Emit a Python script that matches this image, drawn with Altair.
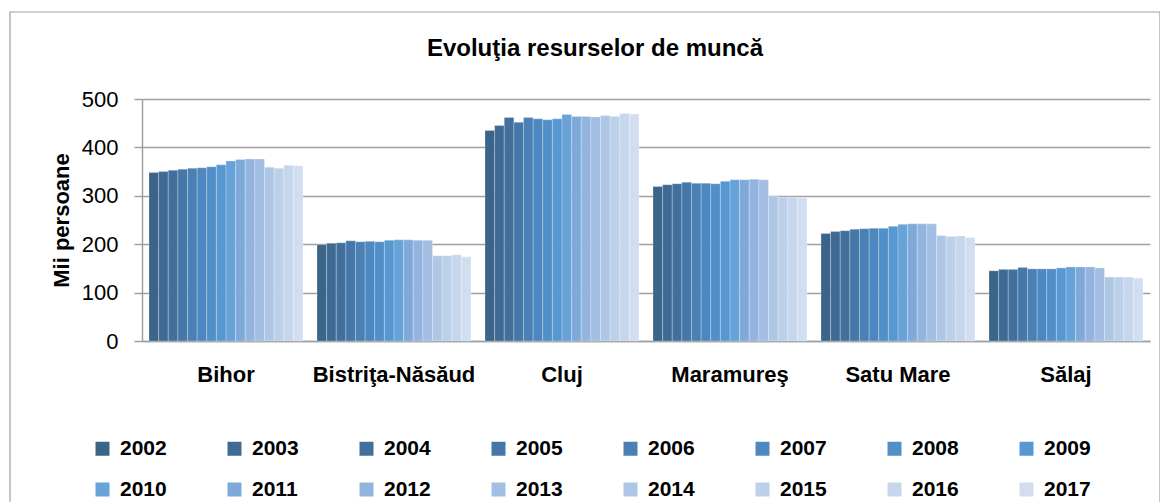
import altair as alt
import pandas as pd

regions = ["Bihor", "Bistriţa-Năsăud", "Cluj", "Maramureş", "Satu Mare", "Sălaj"]
years = ["2002", "2003", "2004", "2005", "2006", "2007", "2008", "2009",
         "2010", "2011", "2012", "2013", "2014", "2015", "2016", "2017"]

bihor = [348, 350, 353, 355, 357, 358, 360, 364, 372, 375, 376, 376, 359, 357, 363, 362]
bistrita = [199, 202, 203, 207, 205, 206, 205, 208, 209, 209, 208, 208, 176, 176, 178, 174]
cluj = [435, 445, 462, 452, 462, 459, 457, 459, 468, 464, 464, 463, 466, 464, 470, 469]
maramures = [319, 323, 325, 328, 326, 326, 325, 330, 333, 333, 334, 333, 300, 297, 297, 296]
satu_mare = [222, 226, 228, 231, 232, 233, 233, 237, 241, 242, 242, 242, 218, 216, 217, 214]
salaj = [145, 148, 148, 152, 149, 149, 149, 151, 153, 153, 153, 151, 132, 132, 132, 130]

colors = ["#3B6489", "#3E6A93", "#41709D", "#4577A8", "#4A80B3", "#4E88C0",
          "#528EC8", "#5898D2", "#67A2D8", "#7DAADA", "#92B4DD", "#A2BEE2",
          "#AFC7E6", "#BCD0EA", "#C6D6ED", "#D2DEF0"]

series = [bihor, bistrita, cluj, maramures, satu_mare, salaj]
rows = []
for reg, vals in zip(regions, series):
    for yr, v in zip(years, vals):
        rows.append({"Regiune": reg, "An": yr, "Valoare": v})
df = pd.DataFrame(rows)

FONT = "Liberation Sans, Arial, sans-serif"
GRAY = "#A0A0A0"

frame = alt.Chart(pd.DataFrame({"k": [0]})).mark_rect(
    fillOpacity=0, stroke=GRAY, strokeWidth=1.2
).encode(
    x=alt.value(-132), x2=alt.value(1018), y=alt.value(-87), y2=alt.value(430)
)

bars = alt.Chart(df).mark_bar(stroke="white", strokeWidth=0.5, strokeOpacity=0.5).encode(
    x=alt.X("Regiune:N", sort=regions,
            scale=alt.Scale(paddingInner=0.0833, paddingOuter=0.0417),
            axis=alt.Axis(title=None, labelAngle=0, ticks=False, domainColor=GRAY,
                          domainWidth=1.5, labelFont=FONT, labelFontWeight="bold",
                          labelFontSize=22, labelColor="black", labelPadding=23)),
    xOffset=alt.XOffset("An:N", sort=years, scale=alt.Scale(paddingInner=0, paddingOuter=0)),
    y=alt.Y("Valoare:Q", scale=alt.Scale(domain=[0, 500], nice=False),
            axis=alt.Axis(title="Mii persoane", values=[0, 100, 200, 300, 400, 500],
                          grid=True, gridColor=GRAY, gridWidth=1.5,
                          domainColor=GRAY, domainWidth=1.5,
                          tickColor=GRAY, tickSize=8, tickWidth=1.5,
                          labelFont=FONT, labelFontSize=22, labelColor="black",
                          labelPadding=16,
                          titleFont=FONT, titleFontSize=22, titleFontWeight="bold",
                          titleColor="black", titlePadding=8)),
    color=alt.Color("An:N", sort=years,
                    scale=alt.Scale(domain=years, range=colors),
                    legend=alt.Legend(title=None, orient="none", legendX=-50, legendY=339,
                                      direction="horizontal", columns=8, gridAlign="all",
                                      symbolType="square", symbolSize=196,
                                      symbolStrokeWidth=0, labelOffset=7,
                                      labelFont=FONT, labelFontWeight="bold",
                                      labelFontSize=21, labelColor="black",
                                      columnPadding=57, rowPadding=19, padding=0)),
)

chart = alt.layer(frame, bars).properties(
    width=1008, height=242,
    padding={"left": 134, "top": 91, "right": 10, "bottom": 175},
    autosize=alt.AutoSizeParams(type="none"),
    title=alt.TitleParams(text="Evoluţia resurselor de muncă", font=FONT,
                          fontSize=24, fontWeight="bold", color="black",
                          anchor="middle", frame="group", dx=-51, offset=-50),
).configure_view(stroke=None)

chart.save("out.html", embed_options={"renderer": "svg", "actions": False})
